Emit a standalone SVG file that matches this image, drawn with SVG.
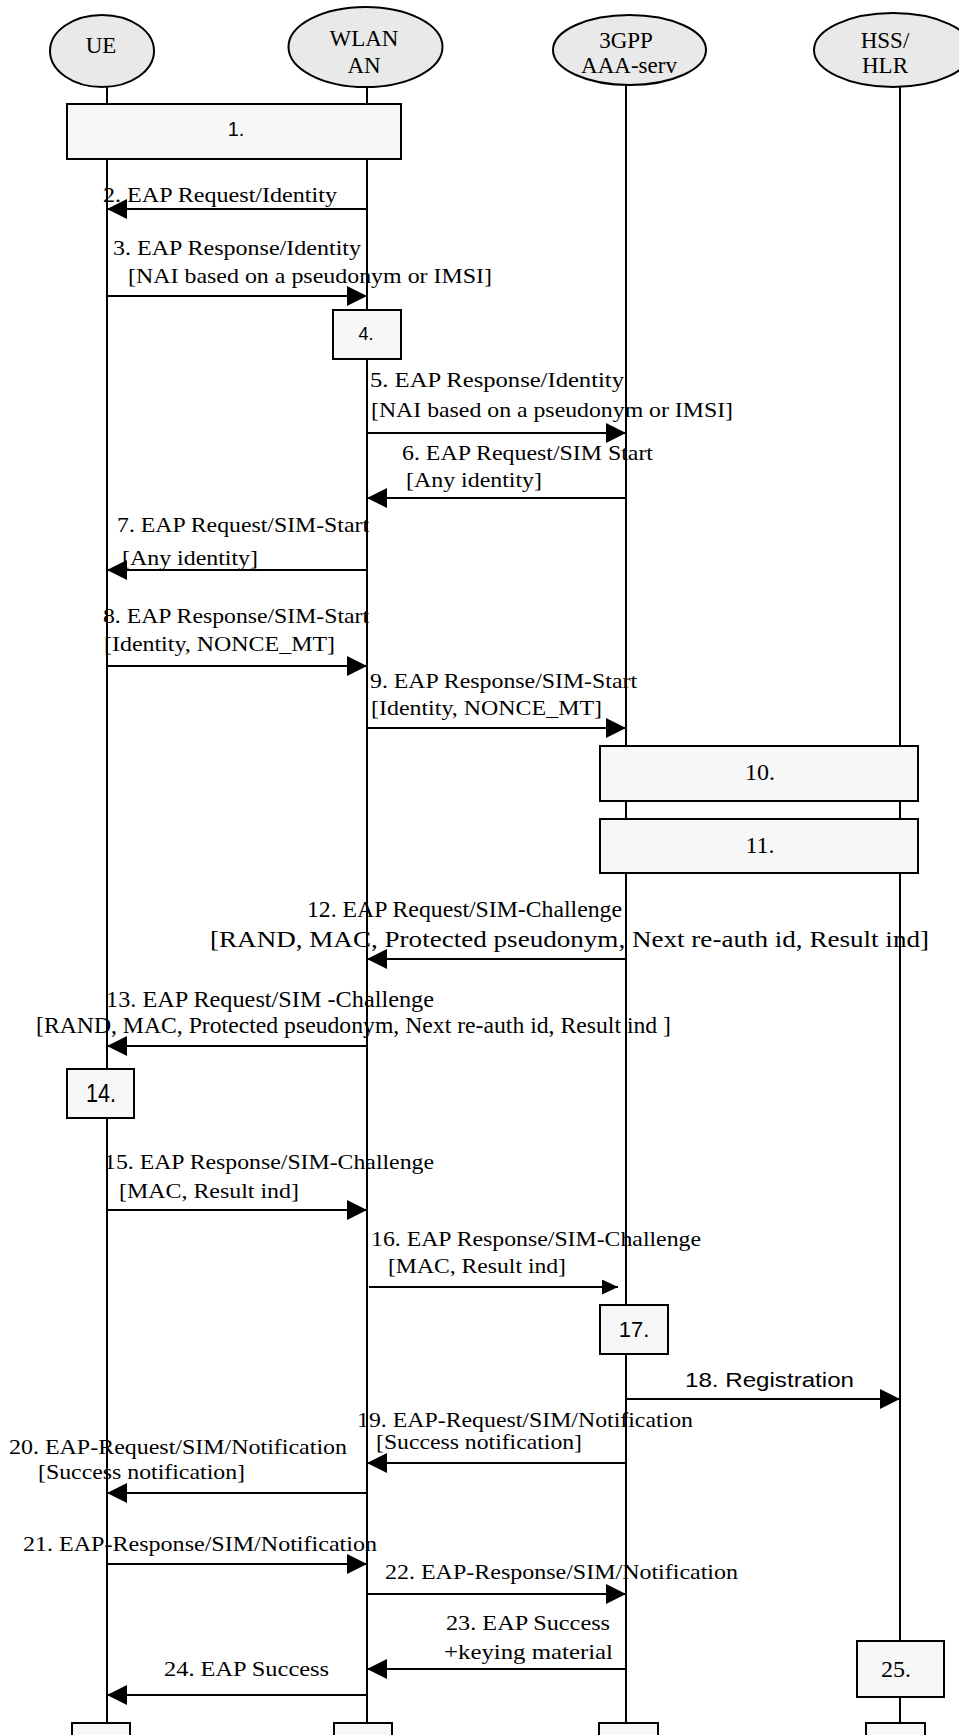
<svg xmlns="http://www.w3.org/2000/svg" width="959" height="1735" viewBox="0 0 959 1735">
<style>
.bg{fill:#ffffff}
.life{stroke:#000;stroke-width:2;fill:none}
.ell{fill:#e9e9e9;stroke:#000;stroke-width:2}
.box{fill:#f7f7f7;stroke:#000;stroke-width:2}
.msg{stroke:#000;stroke-width:2;fill:none}
.hd{font-family:"Liberation Serif","Times New Roman",serif;font-size:23px;fill:#000;text-anchor:middle}
.t{font-family:"Liberation Serif","Times New Roman",serif;font-size:22px;fill:#000}
.t2{font-family:"Liberation Serif","Times New Roman",serif;font-size:24px;fill:#000}
.s{font-family:"Liberation Sans",Arial,sans-serif;fill:#000;text-anchor:middle}
.sr{font-family:"Liberation Serif","Times New Roman",serif;font-size:24px;fill:#000;text-anchor:middle}
</style>
<defs>
<marker id="ah" markerUnits="userSpaceOnUse" markerWidth="20" markerHeight="20" refX="20" refY="10" orient="auto" viewBox="0 0 20 20">
<path d="M0,0 L20,10 L0,20 z" fill="#000"/>
</marker>
<marker id="ahs" markerUnits="userSpaceOnUse" markerWidth="16" markerHeight="15" refX="16" refY="7.5" orient="auto" viewBox="0 0 16 15">
<path d="M0,0 L16,7.5 L0,15 z" fill="#000"/>
</marker>
</defs>
<rect class="bg" x="0" y="0" width="959" height="1735"/>

<g id="UE">
<line class="life" x1="107" y1="87" x2="107" y2="1735"/>
<ellipse class="ell" cx="102" cy="51" rx="52" ry="36"/>
<text class="hd" x="101" y="53">UE</text>
</g>
<g id="WLAN_AN">
<line class="life" x1="367" y1="87" x2="367" y2="1735"/>
<ellipse class="ell" cx="365.5" cy="47" rx="77" ry="40"/>
<text class="hd" x="364" y="46">WLAN</text>
<text class="hd" x="364" y="73">AN</text>
</g>
<g id="AAA">
<line class="life" x1="626" y1="85" x2="626" y2="1735"/>
<ellipse class="ell" cx="629.5" cy="50" rx="76.5" ry="35"/>
<text class="hd" x="626" y="48">3GPP</text>
<text class="hd" x="629" y="73">AAA-serv</text>
</g>
<g id="HSS">
<line class="life" x1="900" y1="87" x2="900" y2="1735"/>
<ellipse class="ell" cx="893" cy="50" rx="79" ry="37"/>
<text class="hd" x="885" y="48">HSS/</text>
<text class="hd" x="885" y="73">HLR</text>
</g>

<g id="box1"><rect class="box" x="67" y="104" width="334" height="55"/><text class="s" x="236" y="136" font-size="20">1.</text></g>
<g id="box4"><rect class="box" x="333" y="310" width="68" height="49"/><text class="s" x="366" y="340" font-size="18">4.</text></g>
<g id="box10"><rect class="box" x="600" y="746" width="318" height="55"/><text class="sr" x="760" y="780">10.</text></g>
<g id="box11"><rect class="box" x="600" y="819" width="318" height="54"/><text class="sr" x="760" y="853">11.</text></g>
<g id="box14"><rect class="box" x="67" y="1069" width="67" height="49"/><text class="s" x="101" y="1102" font-size="25" textLength="30" lengthAdjust="spacingAndGlyphs">14.</text></g>
<g id="box17"><rect class="box" x="600" y="1305" width="68" height="49"/><text class="s" x="634" y="1337" font-size="22">17.</text></g>
<g id="box25"><rect class="box" x="857" y="1641" width="87" height="56"/><text class="sr" x="896" y="1677">25.</text></g>
<g id="endUE"><rect class="box" x="72" y="1723" width="58" height="30"/></g>
<g id="endWLAN"><rect class="box" x="334" y="1723" width="58" height="30"/></g>
<g id="endAAA"><rect class="box" x="599" y="1723" width="59" height="30"/></g>
<g id="endHSS"><rect class="box" x="866" y="1723" width="59" height="30"/></g>

<g id="connectors">
<line class="msg" x1="367" y1="209" x2="107" y2="209" marker-end="url(#ah)"/>
<line class="msg" x1="107" y1="296" x2="367" y2="296" marker-end="url(#ah)"/>
<line class="msg" x1="367" y1="433" x2="626" y2="433" marker-end="url(#ah)"/>
<line class="msg" x1="626" y1="498" x2="367" y2="498" marker-end="url(#ah)"/>
<line class="msg" x1="367" y1="570" x2="107" y2="570" marker-end="url(#ah)"/>
<line class="msg" x1="107" y1="666" x2="367" y2="666" marker-end="url(#ah)"/>
<line class="msg" x1="367" y1="728" x2="626" y2="728" marker-end="url(#ah)"/>
<line class="msg" x1="626" y1="959" x2="367" y2="959" marker-end="url(#ah)"/>
<line class="msg" x1="367" y1="1046" x2="107" y2="1046" marker-end="url(#ah)"/>
<line class="msg" x1="107" y1="1210" x2="367" y2="1210" marker-end="url(#ah)"/>
<line class="msg" x1="369" y1="1287" x2="618" y2="1287" marker-end="url(#ahs)"/>
<line class="msg" x1="626" y1="1399" x2="900" y2="1399" marker-end="url(#ah)"/>
<line class="msg" x1="626" y1="1463" x2="367" y2="1463" marker-end="url(#ah)"/>
<line class="msg" x1="367" y1="1493" x2="107" y2="1493" marker-end="url(#ah)"/>
<line class="msg" x1="107" y1="1564" x2="367" y2="1564" marker-end="url(#ah)"/>
<line class="msg" x1="367" y1="1594" x2="626" y2="1594" marker-end="url(#ah)"/>
<line class="msg" x1="626" y1="1669" x2="367" y2="1669" marker-end="url(#ah)"/>
<line class="msg" x1="367" y1="1695" x2="107" y2="1695" marker-end="url(#ah)"/>
</g>

<g id="labels">
<text class="t" x="103" y="202" textLength="234" lengthAdjust="spacingAndGlyphs">2. EAP Request/Identity</text>
<text class="t" x="113" y="255" textLength="248" lengthAdjust="spacingAndGlyphs">3. EAP Response/Identity</text>
<text class="t" x="128" y="283" textLength="364" lengthAdjust="spacingAndGlyphs">[NAI based on a pseudonym or IMSI]</text>
<text class="t" x="370" y="387" textLength="254" lengthAdjust="spacingAndGlyphs">5.  EAP Response/Identity</text>
<text class="t" x="371" y="417" textLength="362" lengthAdjust="spacingAndGlyphs">[NAI based on a pseudonym or IMSI]</text>
<text class="t" x="402" y="460" textLength="251" lengthAdjust="spacingAndGlyphs">6. EAP Request/SIM Start</text>
<text class="t" x="406" y="487" textLength="136" lengthAdjust="spacingAndGlyphs">[Any identity]</text>
<text class="t" x="117" y="532" textLength="252" lengthAdjust="spacingAndGlyphs">7. EAP Request/SIM-Start</text>
<text class="t" x="122" y="565" textLength="136" lengthAdjust="spacingAndGlyphs">[Any identity]</text>
<text class="t" x="103" y="623" textLength="266" lengthAdjust="spacingAndGlyphs">8. EAP Response/SIM-Start</text>
<text class="t" x="104" y="651" textLength="231" lengthAdjust="spacingAndGlyphs">[Identity, NONCE_MT]</text>
<text class="t" x="370" y="688" textLength="267" lengthAdjust="spacingAndGlyphs">9. EAP Response/SIM-Start</text>
<text class="t" x="371" y="715" textLength="231" lengthAdjust="spacingAndGlyphs">[Identity, NONCE_MT]</text>
<text class="t2" x="307" y="917" textLength="315" lengthAdjust="spacingAndGlyphs">12. EAP Request/SIM-Challenge</text>
<text class="t2" x="210" y="947" textLength="719" lengthAdjust="spacingAndGlyphs">[RAND, MAC, Protected pseudonym, Next re-auth id, Result ind]</text>
<text class="t2" x="106" y="1007" textLength="328" lengthAdjust="spacingAndGlyphs">13. EAP Request/SIM  -Challenge</text>
<text class="t2" x="36" y="1033" textLength="635" lengthAdjust="spacingAndGlyphs">[RAND, MAC, Protected pseudonym, Next re-auth id, Result ind ]</text>
<text class="t" x="104" y="1169" textLength="330" lengthAdjust="spacingAndGlyphs">15. EAP Response/SIM-Challenge</text>
<text class="t" x="119" y="1198" textLength="180" lengthAdjust="spacingAndGlyphs">[MAC, Result ind]</text>
<text class="t" x="371" y="1246" textLength="330" lengthAdjust="spacingAndGlyphs">16. EAP Response/SIM-Challenge</text>
<text class="t" x="388" y="1273" textLength="178" lengthAdjust="spacingAndGlyphs">[MAC, Result ind]</text>
<text class="s" x="685" y="1387" font-size="21" style="text-anchor:start" textLength="169" lengthAdjust="spacingAndGlyphs">18.  Registration</text>
<text class="t" x="357" y="1427" textLength="336" lengthAdjust="spacingAndGlyphs">19. EAP-Request/SIM/Notification</text>
<text class="t" x="376" y="1449" textLength="206" lengthAdjust="spacingAndGlyphs">[Success notification]</text>
<text class="t" x="9" y="1454" textLength="338" lengthAdjust="spacingAndGlyphs">20. EAP-Request/SIM/Notification</text>
<text class="t" x="38" y="1479" textLength="207" lengthAdjust="spacingAndGlyphs">[Success notification]</text>
<text class="t" x="23" y="1551" textLength="354" lengthAdjust="spacingAndGlyphs">21. EAP-Response/SIM/Notification</text>
<text class="t" x="385" y="1579" textLength="353" lengthAdjust="spacingAndGlyphs">22. EAP-Response/SIM/Notification</text>
<text class="t" x="446" y="1630" textLength="164" lengthAdjust="spacingAndGlyphs">23. EAP Success</text>
<text class="t" x="444" y="1659" textLength="169" lengthAdjust="spacingAndGlyphs">+keying material</text>
<text class="t" x="164" y="1676" textLength="165" lengthAdjust="spacingAndGlyphs">24. EAP Success</text>
</g>
</svg>
